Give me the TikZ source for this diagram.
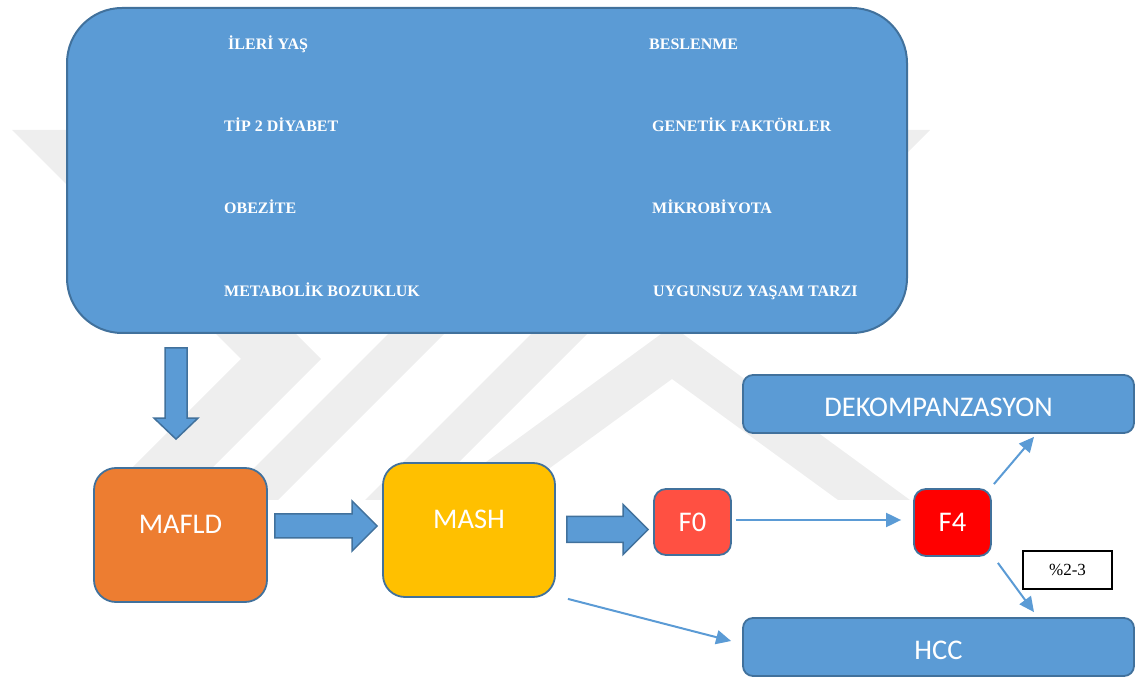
\documentclass[tikz,border=0pt]{standalone}
\usepackage{fontspec}
\setmainfont{Liberation Serif}
\newfontfamily\calibrifont{Carlito}
\usetikzlibrary{calc,arrows.meta}

\definecolor{officeblue}{HTML}{5B9BD5}
\definecolor{edgeblue}{HTML}{41719C}
\definecolor{mafldorange}{HTML}{ED7D31}
\definecolor{mashyellow}{HTML}{FFC000}
\definecolor{fzero}{HTML}{FF5042}
\definecolor{ffour}{HTML}{FF0000}
\definecolor{wmark}{HTML}{EEEEEE}

\tikzset{
  riskbox/.style={draw=edgeblue, fill=officeblue, line width=2pt,
    rounded corners=55pt, minimum width=840pt, minimum height=325pt, inner sep=0pt},
  riskitem/.style={anchor=base west, inner sep=0pt, text=white,
    font=\bfseries\fontsize{16}{19}\selectfont},
  stage/.style={draw=edgeblue, line width=1.8pt, inner sep=0pt},
  stagetext/.style={inner sep=0pt, text=white,
    font=\calibrifont\fontsize{28.5}{34}\selectfont},
  blockarrow/.style={draw=edgeblue, fill=officeblue, line width=1.5pt, line join=miter},
  connector/.style={draw=officeblue, line width=2pt,
    -{Triangle[length=15pt,width=14pt]}},
  ratebox/.style={draw=black, line width=1.3pt, fill=white, inner sep=0pt,
    minimum width=89pt, minimum height=38pt, font=\fontsize{17}{20}\selectfont}
}

% horizontal block arrow: tail point, tip point, shaft half-width, head half-width/length
\newcommand\hblock[4]{%
  \draw[blockarrow] let \p1=(#1), \p2=(#2) in
    (\x1,\y1+#3) -- (\x2-#4,\y1+#3) -- (\x2-#4,\y1+#4) -- (\x2,\y1)
    -- (\x2-#4,\y1-#4) -- (\x2-#4,\y1-#3) -- (\x1,\y1-#3) -- cycle;}

\begin{document}
\begin{tikzpicture}[x=1pt, y=1pt]
\useasboundingbox (0,0) rectangle (1140,680);

% faint background emblem
\fill[wmark] (12,550) -- (92,550) -- (321,321) -- (180,180) -- (100,180) -- (241,321) -- cycle;
\fill[wmark] (930,550) -- (850,550) -- (680,380) -- (760,380) -- cycle;
\fill[wmark] (222,180) -- (278,180) -- (648,550) -- (592,550) -- cycle;
\fill[wmark] (365,180) -- (421,180) -- (636,395) -- (580,395) -- cycle;
\fill[wmark] (672,354) -- (910,180) -- (838,180) -- (672,301) -- (506,180) -- (434,180) -- cycle;

% risk factors
\node[riskbox] (risk) at (487,509.5) {};
\node[riskitem] (r1) at (228,630.7) {İLERİ YAŞ};
\node[riskitem] (r2) at (224,548.2) {TİP 2 DİYABET};
\node[riskitem] (r3) at (224,466.2) {OBEZİTE};
\node[riskitem] (r4) at (224,383.2) {METABOLİK BOZUKLUK};
\node[riskitem] (r5) at (649,630.7) {BESLENME};
\node[riskitem] (r6) at (652,548.2) {GENETİK FAKTÖRLER};
\node[riskitem] (r7) at (652,466.2) {MİKROBİYOTA};
\node[riskitem] (r8) at (653,383.2) {UYGUNSUZ YAŞAM TARZI};

% disease stages
\node[stage, fill=mafldorange, rounded corners=22pt, minimum width=173pt, minimum height=134pt] (mafld) at (180.5,145) {};
\node[stagetext] (mafldtxt) at ($(mafld.center)+(0,11)$) {MAFLD};
\node[stage, fill=mashyellow, rounded corners=22pt, minimum width=172pt, minimum height=134pt] (mash) at (469,150) {};
\node[stagetext] (mashtxt) at ($(mash.center)+(0,11)$) {MASH};
\node[stage, fill=fzero, rounded corners=12pt, minimum width=77pt, minimum height=66pt] (f0) at (692.5,158) {};
\node[stagetext] (f0txt) at (f0.center) {F0};
\node[stage, fill=ffour, rounded corners=12pt, minimum width=77pt, minimum height=67pt] (f4) at (952.5,157.5) {};
\node[stagetext] (f4txt) at (f4.center) {F4};
\node[stage, fill=officeblue, rounded corners=10pt, minimum width=391pt, minimum height=58pt] (dekomp) at (938.5,276) {};
\node[stagetext] (dekomptxt) at ($(dekomp.center)+(0,-3.5)$) {DEKOMPANZASYON};
\node[stage, fill=officeblue, rounded corners=10pt, minimum width=391pt, minimum height=58pt] (hcc) at (938.5,33) {};
\node[stagetext] (hcctxt) at ($(hcc.center)+(0,-3.8)$) {HCC};
\node[ratebox] (rate) at (1067.5,110) {\%2-3};

% block arrows
\coordinate (dtail) at ($(risk.south -| mafld.north)+(-4.5,-14)$);
\coordinate (dtip) at ($(mafld.north)+(-4.5,28)$);
\draw[blockarrow] let \p1=(dtail), \p2=(dtip) in
  (\x1-11,\y1) -- (\x1+11,\y1) -- (\x1+11,\y2+21) -- (\x1+22,\y2+21) -- (\x1,\y2)
  -- (\x1-22,\y2+21) -- (\x1-11,\y2+21) -- cycle;
\hblock{$(mafld.east)+(7,9)$}{$(mash.west)+(-5,4)$}{12}{25}
\hblock{$(mash.east)+(11,0.5)$}{$(f0.west)+(-5,-7)$}{13}{25}

% progression arrows
\draw[connector] ($(f0.east)+(4,2)$) -- ($(f4.west)+(-12,2.5)$);
\draw[connector] ($(f4.north east)+(2,4)$) -- ($(dekomp.south)+(95.5,-3)$);
\draw[connector] ($(f4.south east)+(6,-6)$) -- ($(hcc.north)+(95.5,5)$);
\draw[connector] ($(mash.south east)+(12,-1)$) -- ($(hcc.west)+(-11,6)$);
\end{tikzpicture}
\end{document}
